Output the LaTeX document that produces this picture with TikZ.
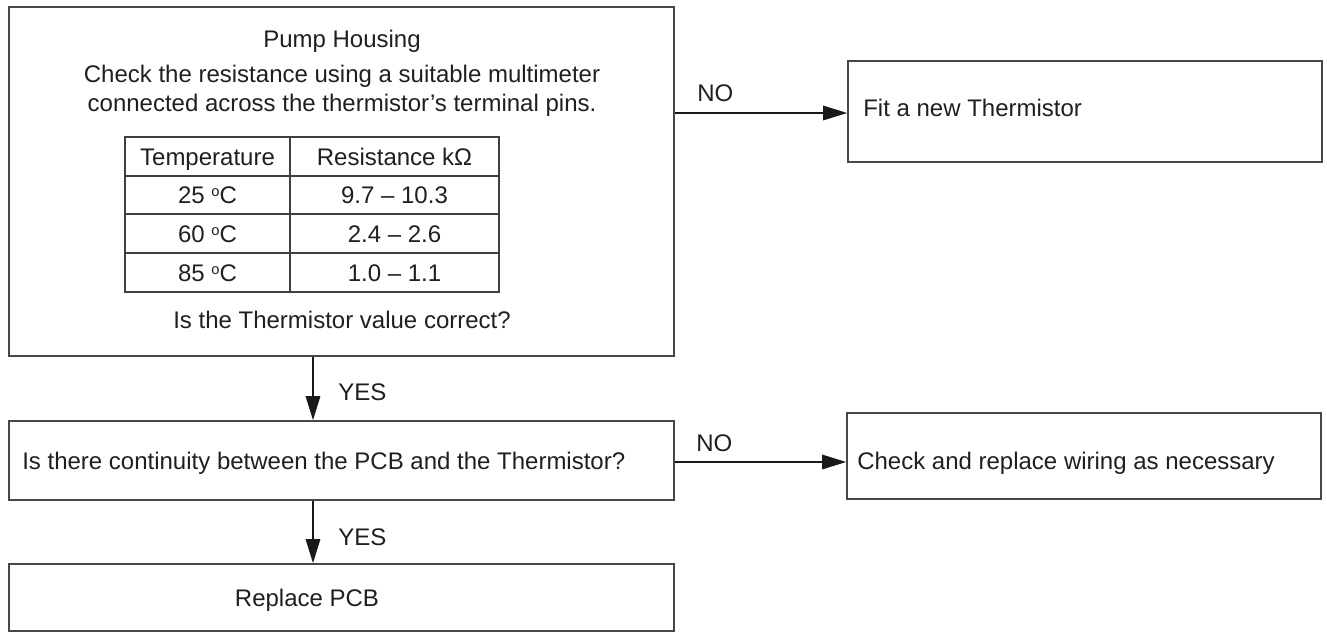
\documentclass[tikz,border=0pt]{standalone}
\usepackage{fontspec}
\setmainfont{Liberation Sans}
\usetikzlibrary{arrows.meta,fit}
\newcommand{\dego}{\raisebox{5.2pt}{\fontsize{11}{12}\selectfont o}}
\begin{document}
\begin{tikzpicture}[x=0.75pt,y=-0.75pt,
  box/.style={draw=black!72,line width=1.4pt,inner sep=0pt},
  txt/.style={font=\fontsize{18}{22}\selectfont,text=black!88,inner sep=0pt},
  arr/.style={-{Triangle[length=18pt,width=11pt]},line width=0.8pt,draw=black!90,fill=black!90},
  tbl/.style={draw=black!75,line width=1pt}
]
\useasboundingbox (0,0) rectangle (1327,640);

% boxes
\node[box,fit={(9,7) (674,356)}] (b1) {};
\node[box,fit={(848,61) (1322,162)}] (r1) {};
\node[box,fit={(9,421) (674,500)}] (b2) {};
\node[box,fit={(847,413) (1321,499)}] (r2) {};
\node[box,fit={(9,564) (674,631)}] (b3) {};

% table
\draw[tbl] (125,137) rectangle (499,292);
\draw[tbl] (290,137) -- (290,292);
\draw[tbl] (125,176) -- (499,176);
\draw[tbl] (125,214) -- (499,214);
\draw[tbl] (125,253) -- (499,253);

% texts in main box
\node[txt,anchor=base] (t1) at (342,47) {Pump Housing};
\node[txt,anchor=base] (t2) at (342,82.5) {Check the resistance using a suitable multimeter};
\node[txt,anchor=base] (t3) at (342,111.5) {connected across the thermistor’s terminal pins.};
\node[txt,anchor=base] (h1) at (207.5,165) {Temperature};
\node[txt,anchor=base] (h2) at (394.5,165) {Resistance kΩ};
\node[txt,anchor=base] (a1) at (207.5,203.6) {25 \dego C};
\node[txt,anchor=base] (a2) at (394.5,203.6) {9.7 – 10.3};
\node[txt,anchor=base] (c1) at (207.5,242) {60 \dego C};
\node[txt,anchor=base] (c2) at (394.5,242) {2.4 – 2.6};
\node[txt,anchor=base] (d1) at (207.5,281) {85 \dego C};
\node[txt,anchor=base] (d2) at (394.5,281) {1.0 – 1.1};
\node[txt,anchor=base] (t4) at (342,328.5) {Is the Thermistor value correct?};

% other texts
\node[txt,anchor=base west] (tr1) at (863,116) {Fit a new Thermistor};
\node[txt,anchor=base west] (tb2) at (22,469.5) {Is there continuity between the PCB and the Thermistor?};
\node[txt,anchor=base west] (tr2) at (857,469.5) {Check and replace wiring as necessary};
\node[txt,anchor=base] (tb3) at (307,606) {Replace PCB};

% connector coordinates
\coordinate (ax) at (313,0);
\coordinate (n1) at (0,113);
\coordinate (n2) at (0,462);

% connectors
\draw[arr] (b1.east |- n1) -- (r1.west |- n1);
\draw[arr] (b2.east |- n2) -- (r2.west |- n2);
\draw[arr] (b1.south -| ax) -- (b2.north -| ax);
\draw[arr] (b2.south -| ax) -- (b3.north -| ax);

% labels
\node[txt,anchor=base west] (no1) at (697,101.5) {NO};
\node[txt,anchor=base west] (no2) at (696,451.5) {NO};
\node[txt,anchor=base west] (yes1) at (338,400.5) {YES};
\node[txt,anchor=base west] (yes2) at (338,545.5) {YES};
\end{tikzpicture}
\end{document}
